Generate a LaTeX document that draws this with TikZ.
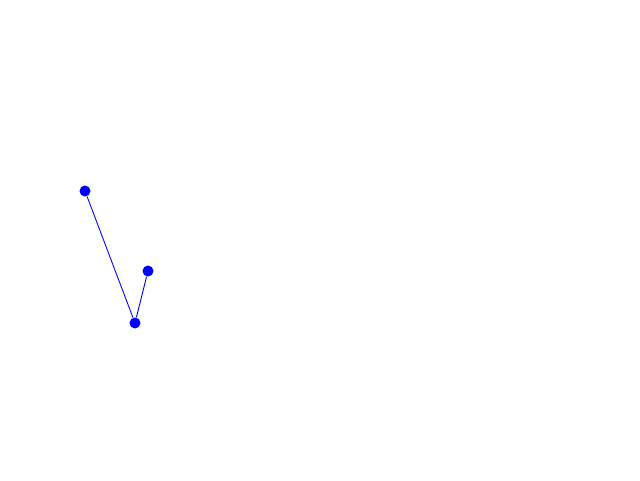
\documentclass[tikz,border=0pt]{standalone}
\usepackage{tikz}
\begin{document}
\begin{tikzpicture}[
  dot/.style={circle, fill=blue, inner sep=0pt, minimum size=2.2mm},
  edge/.style={blue, line width=0.5pt}
]
  \useasboundingbox (0,0) rectangle (12.8,9.6);
  \node[dot] (top) at (1.70,5.78) {};
  \node[dot] (bottom) at (2.70,3.14) {};
  \node[dot] (mid) at (2.96,4.18) {};

  \draw[edge] (top) -- (bottom);
  \draw[edge] (bottom) -- (mid);
\end{tikzpicture}
\end{document}
